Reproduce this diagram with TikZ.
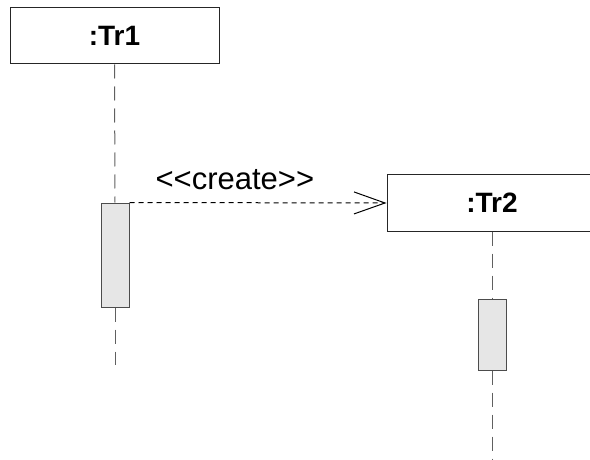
\documentclass[tikz,border=0pt]{standalone}
\usepackage{fontspec}
\setmainfont{Liberation Sans}
\usetikzlibrary{positioning, arrows.meta}
\definecolor{actfill}{HTML}{E6E6E6}
\definecolor{lifegray}{HTML}{606060}
\tikzset{x=1pt, y=-1pt, % One unit is one pixel of the picture
every object/.style={ % Sets the properties for each object box
draw=black!85, line width=1pt, minimum width=209pt, minimum height=56pt,
font=\fontsize{28}{34}\selectfont\bfseries},
every activation/.style={ % Sets the properties for each activation bar
draw=black!70, fill=actfill, line width=1pt, minimum width=28pt, inner sep=0pt},
lifeline/.style={ % Dashed line below an object
draw=lifegray, line width=1pt, dash pattern=on 14pt off 8pt},
every edge/.style={ % Sets the properties for each message
draw, line width=1pt, dash pattern=on 5pt off 4pt,
-{Straight Barb[length=31pt,width=22pt]}}}

\begin{document}
\begin{tikzpicture}
    \useasboundingbox (0,0) rectangle (590,460);
    \clip (0,0) rectangle (590,460);
    
    \node[every object] (tr1) at (114.5,36) {:Tr1};
    \node[every activation, minimum height=104pt] (a1) at (115,255) {};
    \node[every object, minimum width=210pt] (tr2) at (492,203) {:Tr2};
    \node[every activation, minimum height=71pt] (a2) at (492,334.5) {};
    \coordinate (end1) at (115,365);
    \coordinate (end2) at (492,460);
    
    \draw[lifeline] (tr1.south) -- (a1.north);
    \draw[lifeline] (a1.south) -- (end1);
    \draw[lifeline] (tr2.south) -- (a2.north);
    \draw[lifeline] (a2.south) -- (end2);
    
    \draw (a1.north east) edge node[pos=0.41, anchor=base, yshift=13pt,
        font=\fontsize{31}{36}\selectfont] {<\kern0pt<create>\kern0pt>} (tr2.west);
    
\end{tikzpicture}
\end{document}
